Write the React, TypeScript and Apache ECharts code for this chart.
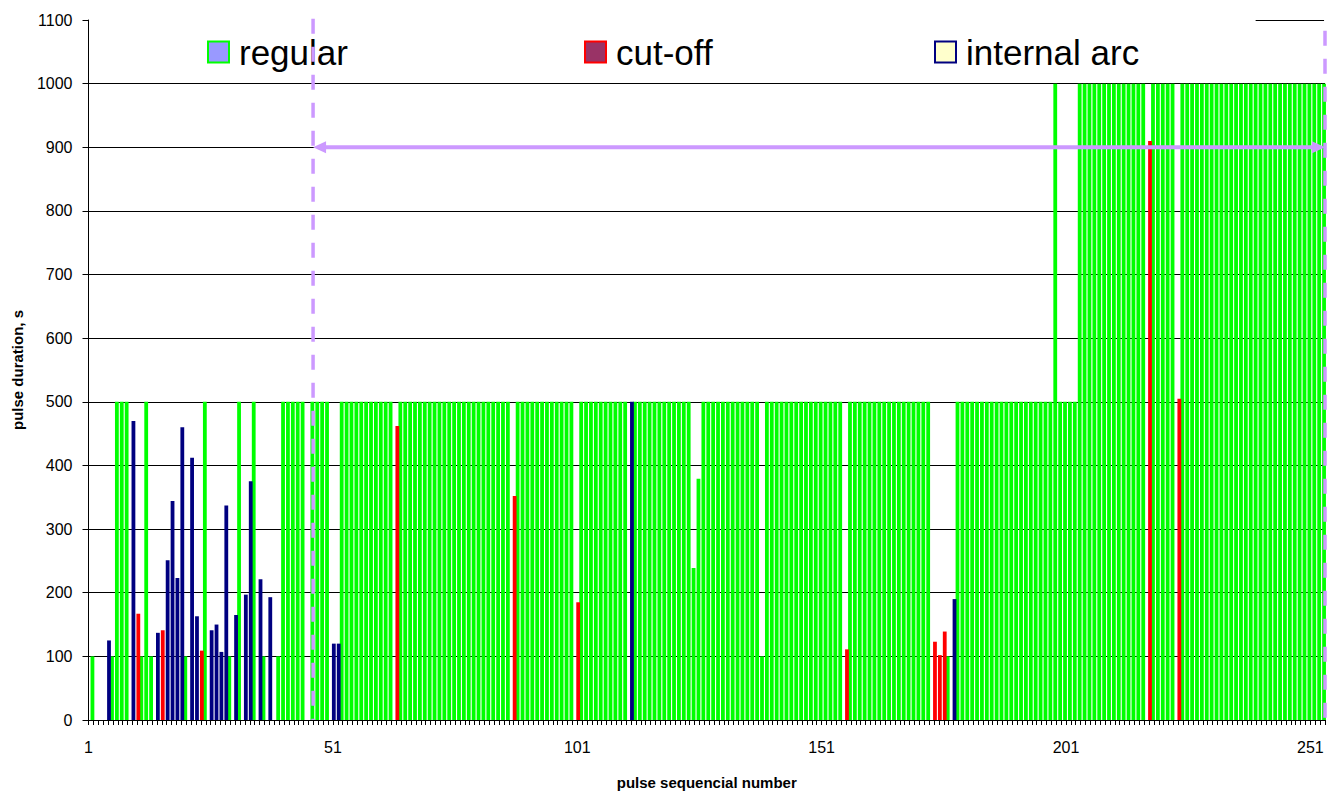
import React, { useEffect, useRef } from "react";
import * as echarts from "echarts";

const _ = null;
const N = 254;
const categories: string[] = Array.from({ length: N }, (v, i) => String(i + 1));
const xTickLabels = ["1", "51", "101", "151", "201", "251"];
const yMax = 1100;
const yStep = 100;

// regular pulses, one value per pulse number 1..254 (null = other type / none)
const regular: (number | null)[] = [
  _, 100, _, _, _, 100, 500, 500, 500, _,
  _, 100, 500, 100, _, _, _, _, _, _,
  100, _, _, _, 500, _, _, _, _, 100,
  _, 500, _, _, 500, _, 100, _, _, 100,
  500, 500, 500, 500, 500, _, 500, 500, 500, 500,
  _, _, 500, 500, 500, 500, 500, 500, 500, 500,
  500, 500, 500, _, 500, 500, 500, 500, 500, 500,
  500, 500, 500, 500, 500, 500, 500, 500, 500, 500,
  500, 500, 500, 500, 500, 500, 500, _, 500, 500,
  500, 500, 500, 500, 500, 500, 500, 500, 500, 500,
  _, 500, 500, 500, 500, 500, 500, 500, 500, 500,
  500, _, 500, 500, 500, 500, 500, 500, 500, 500,
  500, 500, 500, 500, 239, 379, 500, 500, 500, 500,
  500, 500, 500, 500, 500, 500, 500, 500, 100, 500,
  500, 500, 500, 500, 500, 500, 500, 500, 500, 500,
  500, 500, 500, 500, 500, _, 500, 500, 500, 500,
  500, 500, 500, 500, 500, 500, 500, 500, 500, 500,
  500, 500, 500, _, _, _, 100, _, 500, 500,
  500, 500, 500, 500, 500, 500, 500, 500, 500, 500,
  500, 500, 500, 500, 500, 500, 500, 500, 1000, 500,
  500, 500, 500, 1000, 1000, 1000, 1000, 1000, 1000, 1000,
  1000, 1000, 1000, 1000, 1000, 1000, 1000, _, 1000, 1000,
  1000, 1000, 1000, _, 1000, 1000, 1000, 1000, 1000, 1000,
  1000, 1000, 1000, 1000, 1000, 1000, 1000, 1000, 1000, 1000,
  1000, 1000, 1000, 1000, 1000, 1000, 1000, 1000, 1000, 1000,
  1000, 1000, 1000, 1000,
];

// [pulse number, duration]
const cutOff: [number, number][] = [
  [11, 167], [16, 141], [24, 109], [64, 462], [88, 352], [101, 185],
  [156, 111], [174, 123], [175, 102], [176, 139], [218, 910], [224, 505],
];

const internalArc: [number, number][] = [
  [5, 125], [10, 470], [15, 137], [17, 251], [18, 344], [19, 223], [20, 460],
  [22, 412], [23, 163], [26, 141], [27, 150], [28, 107], [29, 337], [31, 165],
  [33, 197], [34, 375], [36, 221], [38, 193], [51, 120], [52, 120],
  [112, 500], [178, 190],
];

// annotation: span marked by dashed lines and a double arrow
const spanStartPulse = 46.95;
const spanEndPulse = 254;
const spanValue = 900;
const leftMarkerTop = 1102;
const rightMarkerTop = 1083;

const FONT = "'Liberation Sans', Arial, Helvetica, sans-serif";
const LAV = "#CC99FF";

function toSeriesData(pairs: [number, number][]): (number | null)[] {
  const arr: (number | null)[] = new Array(N).fill(null);
  pairs.forEach(([p, v]) => {
    arr[p - 1] = v;
  });
  return arr;
}

function legendDef(name: string, left: number, fill: string, border: string) {
  return {
    left,
    top: 34.5,
    padding: 0,
    itemWidth: 21,
    itemHeight: 21,
    itemGap: 0,
    selectedMode: false,
    textStyle: { fontSize: 35, lineHeight: 35, color: "#000", fontFamily: FONT, padding: [0, 0, 0, 5] },
    data: [{ name, icon: "rect", itemStyle: { color: fill, borderColor: border, borderWidth: 2 } }],
  };
}

export default function App() {
  const ref = useRef<HTMLDivElement>(null);

  useEffect(() => {
    if (!ref.current) return;
    const chart = echarts.init(ref.current, undefined, { renderer: "svg" });

    const gridColors: string[] = [];
    for (let v = 0; v <= yMax; v += yStep) gridColors.push(v === yMax ? "rgba(0,0,0,0)" : "#000");

    const barCommon = { type: "bar", barWidth: 3.8, barGap: "-50%" };

    const option: any = {
      animation: false,
      backgroundColor: "#ffffff",
      textStyle: { fontFamily: FONT },
      grid: { left: 88.5, width: 1236.5, top: 20, height: 704 },
      legend: [
        legendDef("regular", 207, "#9999FF", "#00FF00"),
        legendDef("cut-off", 584, "#993366", "#FF0000"),
        legendDef("internal arc", 934, "#FFFFCC", "#000080"),
      ],
      xAxis: {
        type: "category",
        data: categories,
        boundaryGap: false,
        axisLine: { show: true, lineStyle: { color: "#000", width: 1 } },
        axisTick: { show: true, interval: 0, length: 5, lineStyle: { color: "#000" } },
        axisLabel: {
          interval: (i: number, v: string) => xTickLabels.includes(v),
          fontSize: 16,
          color: "#000",
          margin: 19,
          fontFamily: FONT,
        },
        splitLine: { show: false },
        name: "pulse sequencial number",
        nameLocation: "middle",
        nameGap: 55,
        nameTextStyle: { fontSize: 15, fontWeight: "bold", color: "#000", fontFamily: FONT },
      },
      yAxis: {
        type: "value",
        min: 0,
        max: yMax,
        interval: yStep,
        axisLine: { show: true, lineStyle: { color: "#000", width: 1 } },
        axisTick: { show: true, length: 6, lineStyle: { color: "#000" } },
        axisLabel: {
          fontSize: 16,
          color: "#000",
          margin: 16,
          fontFamily: FONT,
          formatter: (v: number) => String(v),
        },
        splitLine: { show: true, lineStyle: { color: gridColors, width: 1 } },
        name: "pulse duration, s",
        nameLocation: "middle",
        nameGap: 64,
        nameRotate: 90,
        nameTextStyle: { fontSize: 15, fontWeight: "bold", color: "#000", fontFamily: FONT },
      },
      series: [
        {
          ...barCommon,
          name: "regular",
          stack: "g",
          data: regular,
          itemStyle: { color: "#00FF00" },
          markLine: {
            silent: true,
            symbol: ["none", "none"],
            label: { show: false },
            lineStyle: { color: "#000", width: 1, type: "solid" },
            data: [[{ coord: ["240", yMax] }, { coord: [String(N), yMax] }]],
          },
        },
        { ...barCommon, name: "cut-off", stack: "rb", data: toSeriesData(cutOff), itemStyle: { color: "#FF0000" } },
        { ...barCommon, name: "internal arc", stack: "rb", data: toSeriesData(internalArc), itemStyle: { color: "#000080" } },
      ],
    };

    chart.setOption(option);

    const pA = chart.convertToPixel({ xAxisIndex: 0, yAxisIndex: 0 }, [0, 0]) as number[];
    const pB = chart.convertToPixel({ xAxisIndex: 0, yAxisIndex: 0 }, [N - 1, yMax]) as number[];
    const px = (pulse: number) => pA[0] + ((pB[0] - pA[0]) * (pulse - 1)) / (N - 1);
    const py = (v: number) => pA[1] + ((pB[1] - pA[1]) * v) / yMax;

    const xl = px(spanStartPulse);
    const xr = px(spanEndPulse);
    const ya = py(spanValue);
    const ah = 13;
    const aw = 6;

    chart.setOption({
      graphic: {
        elements: [
          {
            type: "line", z: 100, silent: true,
            shape: { x1: xl, y1: py(leftMarkerTop), x2: xl, y2: py(0) },
            style: { stroke: LAV, lineWidth: 3.5, lineDash: [15, 13] },
          },
          {
            type: "line", z: 100, silent: true,
            shape: { x1: xr, y1: py(rightMarkerTop), x2: xr, y2: py(0) },
            style: { stroke: LAV, lineWidth: 3.5, lineDash: [15, 13] },
          },
          {
            type: "line", z: 100, silent: true,
            shape: { x1: xl + ah - 2, y1: ya, x2: xr - ah + 2, y2: ya },
            style: { stroke: LAV, lineWidth: 4 },
          },
          {
            type: "polygon", z: 100, silent: true,
            shape: { points: [[xl, ya], [xl + ah, ya - aw], [xl + ah, ya + aw]] },
            style: { fill: LAV },
          },
          {
            type: "polygon", z: 100, silent: true,
            shape: { points: [[xr, ya], [xr - ah, ya - aw], [xr - ah, ya + aw]] },
            style: { fill: LAV },
          },
        ],
      },
    });

    return () => chart.dispose();
  }, []);

  return (
    <div
      ref={ref}
      style={{ position: "fixed", left: 0, top: 0, width: 1327, height: 795, background: "#fff" }}
    />
  );
}
